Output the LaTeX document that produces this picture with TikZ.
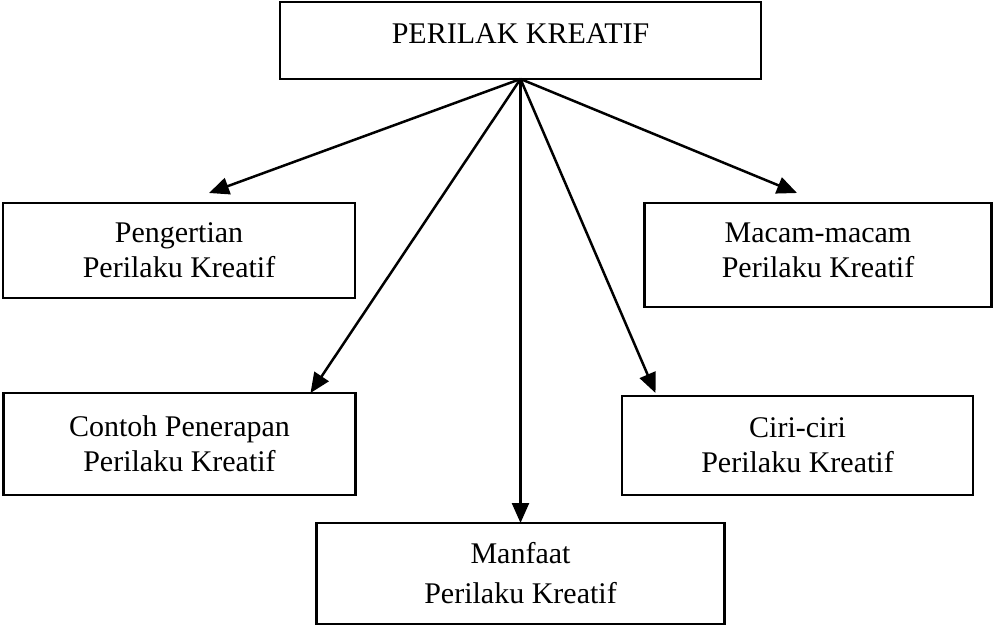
\documentclass[tikz,border=0pt]{standalone}
\usepackage{fontspec}
\setmainfont{Liberation Serif}
\usetikzlibrary{arrows.meta,calc}
\begin{document}
\begin{tikzpicture}[x=1pt,y=-1pt,
  box/.style={draw, line width=2.3pt, inner sep=0pt, outer sep=0pt,
    align=center, font=\fontsize{30}{35}\selectfont},
  link/.style={line width=2.5pt, -{Triangle[length=20pt,width=17pt]}}]
  \useasboundingbox (0,0) rectangle (993,626);

  % concept boxes
  \node[box, minimum width=481pt, minimum height=77pt] (top) at (520.5,40.5)
    {\raisebox{7pt}[\height][\depth]{PERILAK KREATIF}};
  \node[box, minimum width=352pt, minimum height=95pt] (peng) at (179,250.5)
    {Pengertian\\Perilaku Kreatif};
  \node[box, minimum width=347pt, minimum height=104pt] (macam) at (818,255)
    {\raisebox{5pt}[\height][\depth]{Macam-macam}\\\raisebox{5pt}[\height][\depth]{Perilaku Kreatif}};
  \node[box, minimum width=352pt, minimum height=102pt] (contoh) at (179.5,444)
    {Contoh Penerapan\\Perilaku Kreatif};
  \node[box, minimum width=351pt, minimum height=99pt] (ciri) at (797.5,445.5)
    {Ciri-ciri\\Perilaku Kreatif};
  \node[box, minimum width=408pt, minimum height=101pt,
    font=\fontsize{30}{40}\selectfont] (manfaat) at (520.5,573.5)
    {Manfaat\\Perilaku Kreatif};

  % common start point and arrow tips
  \coordinate (apex) at (top.south);
  \coordinate (tpeng) at ($(peng.north)+(30,-10)$);
  \coordinate (tmacam) at ($(macam.north)+(-21,-10)$);
  \coordinate (tcontoh) at ($(contoh.north)+(131,0)$);
  \coordinate (tciri) at ($(ciri.north)+(-142,-3)$);

  \draw[link] (apex) -- (tpeng);
  \draw[link] (apex) -- (tcontoh);
  \draw[link] (apex) -- (manfaat.north);
  \draw[link] (apex) -- (tciri);
  \draw[link] (apex) -- (tmacam);
\end{tikzpicture}
\end{document}
